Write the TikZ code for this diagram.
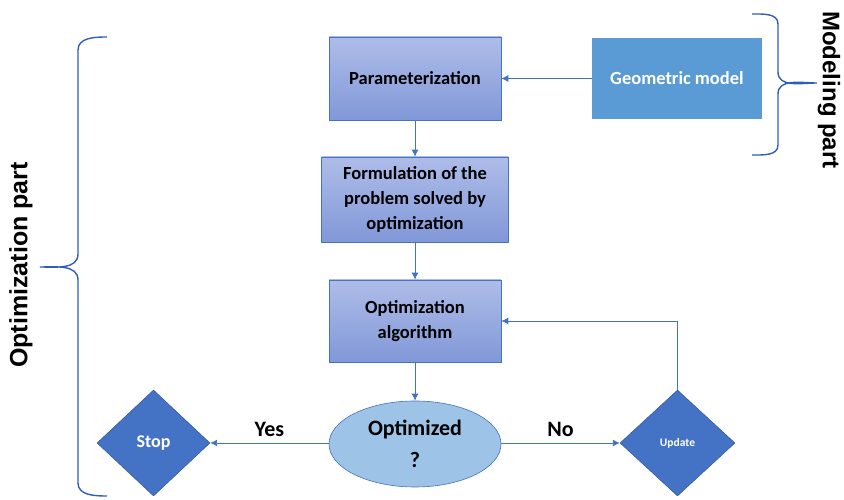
\documentclass[tikz,border=0pt]{standalone}
\usepackage{fontspec}
\setmainfont{Carlito}
\newfontfamily\sidefont{Liberation Sans}
\usetikzlibrary{shapes.geometric,arrows.meta,positioning}

\definecolor{linkblue}{HTML}{4472C4}
\definecolor{boxtop}{HTML}{AEBCE8}
\definecolor{boxbot}{HTML}{8198D8}
\definecolor{geoblue}{HTML}{5B9BD5}
\definecolor{ovalblue}{HTML}{9DC3E6}
\definecolor{bracecol}{HTML}{2F5EB8}

\begin{document}
\begin{tikzpicture}[x=1pt,y=1pt,
  font=\bfseries,
  stepbox/.style={draw=linkblue, line width=0.6pt, top color=boxtop, bottom color=boxbot,
    minimum width=172pt, minimum height=83pt, align=center, font=\bfseries\fontsize{18.5}{25}\selectfont},
  decision/.style={diamond, draw=bracecol!80!black, fill=linkblue, text=white, inner sep=0pt,
    minimum width=114pt, minimum height=106pt},
  link/.style={draw=linkblue, line width=0.9pt, -{Latex[length=7pt,width=7pt]}},
  answer/.style={above=3pt, text=black, font=\bfseries\fontsize{22}{24}\selectfont},
  sidelabel/.style={font=\sidefont\bfseries\fontsize{25}{28}\selectfont, inner sep=1pt},
  curly/.style={draw=bracecol, line width=1.4pt}]
  \useasboundingbox (0,0) rectangle (844,500);

  \node[stepbox] (param) at (415,421.5) {Parameterization};
  \node[fill=geoblue, text=white, minimum width=170pt, minimum height=81pt,
    font=\bfseries\fontsize{18.5}{25}\selectfont] (geo) at (677,421.5) {Geometric model};
  \node[stepbox, minimum width=187pt, minimum height=85pt] (form) at (415,300.5)
    {Formulation of the\\problem solved by\\optimization};
  \node[stepbox, minimum height=82pt] (algo) at (415,179) {Optimization\\algorithm};
  \node[ellipse, draw=linkblue, line width=0.6pt, fill=ovalblue, minimum width=172pt,
    minimum height=86pt, align=center, font=\bfseries\fontsize{22}{32}\selectfont]
    (check) at (415,56) {Optimized\\?};
  \node[decision, minimum width=113pt, font=\bfseries\fontsize{18}{20}\selectfont]
    (stop) at (153.5,57) {Stop};
  \node[decision, minimum width=115pt, font=\bfseries\fontsize{11.5}{13}\selectfont]
    (update) at (677.5,57) {Update};

  \draw[link] (geo) -- (param);
  \draw[link] (param) -- (form);
  \draw[link] (form) -- (algo);
  \draw[link] (algo) -- (check);
  \draw[link] (check.west |- stop) -- node[answer] (yes) {Yes} (stop);
  \draw[link] (check.east |- update) -- node[answer] (no) {No} (update);
  \draw[link] (update.north) |- (algo.east);

  \draw[curly] (107,463) to[out=180,in=90] (78,450) -- (78,246)
    to[out=-90,in=0] (40,233) to[out=0,in=90] (78,220) -- (78,17)
    to[out=-90,in=180] (107,4);
  \node[sidelabel, rotate=90] (optpart) at (21,235) {Optimization part};

  \draw[curly] (752,486) to[out=0,in=90] (778,476) -- (778,428)
    to[out=-90,in=180] (817,417) to[out=180,in=90] (778,406) -- (778,355)
    to[out=-90,in=0] (752,345);
  \node[sidelabel, rotate=-90, font=\sidefont\bfseries\fontsize{24}{27}\selectfont]
    (modpart) at (829,410) {Modeling part};
\end{tikzpicture}
\end{document}
